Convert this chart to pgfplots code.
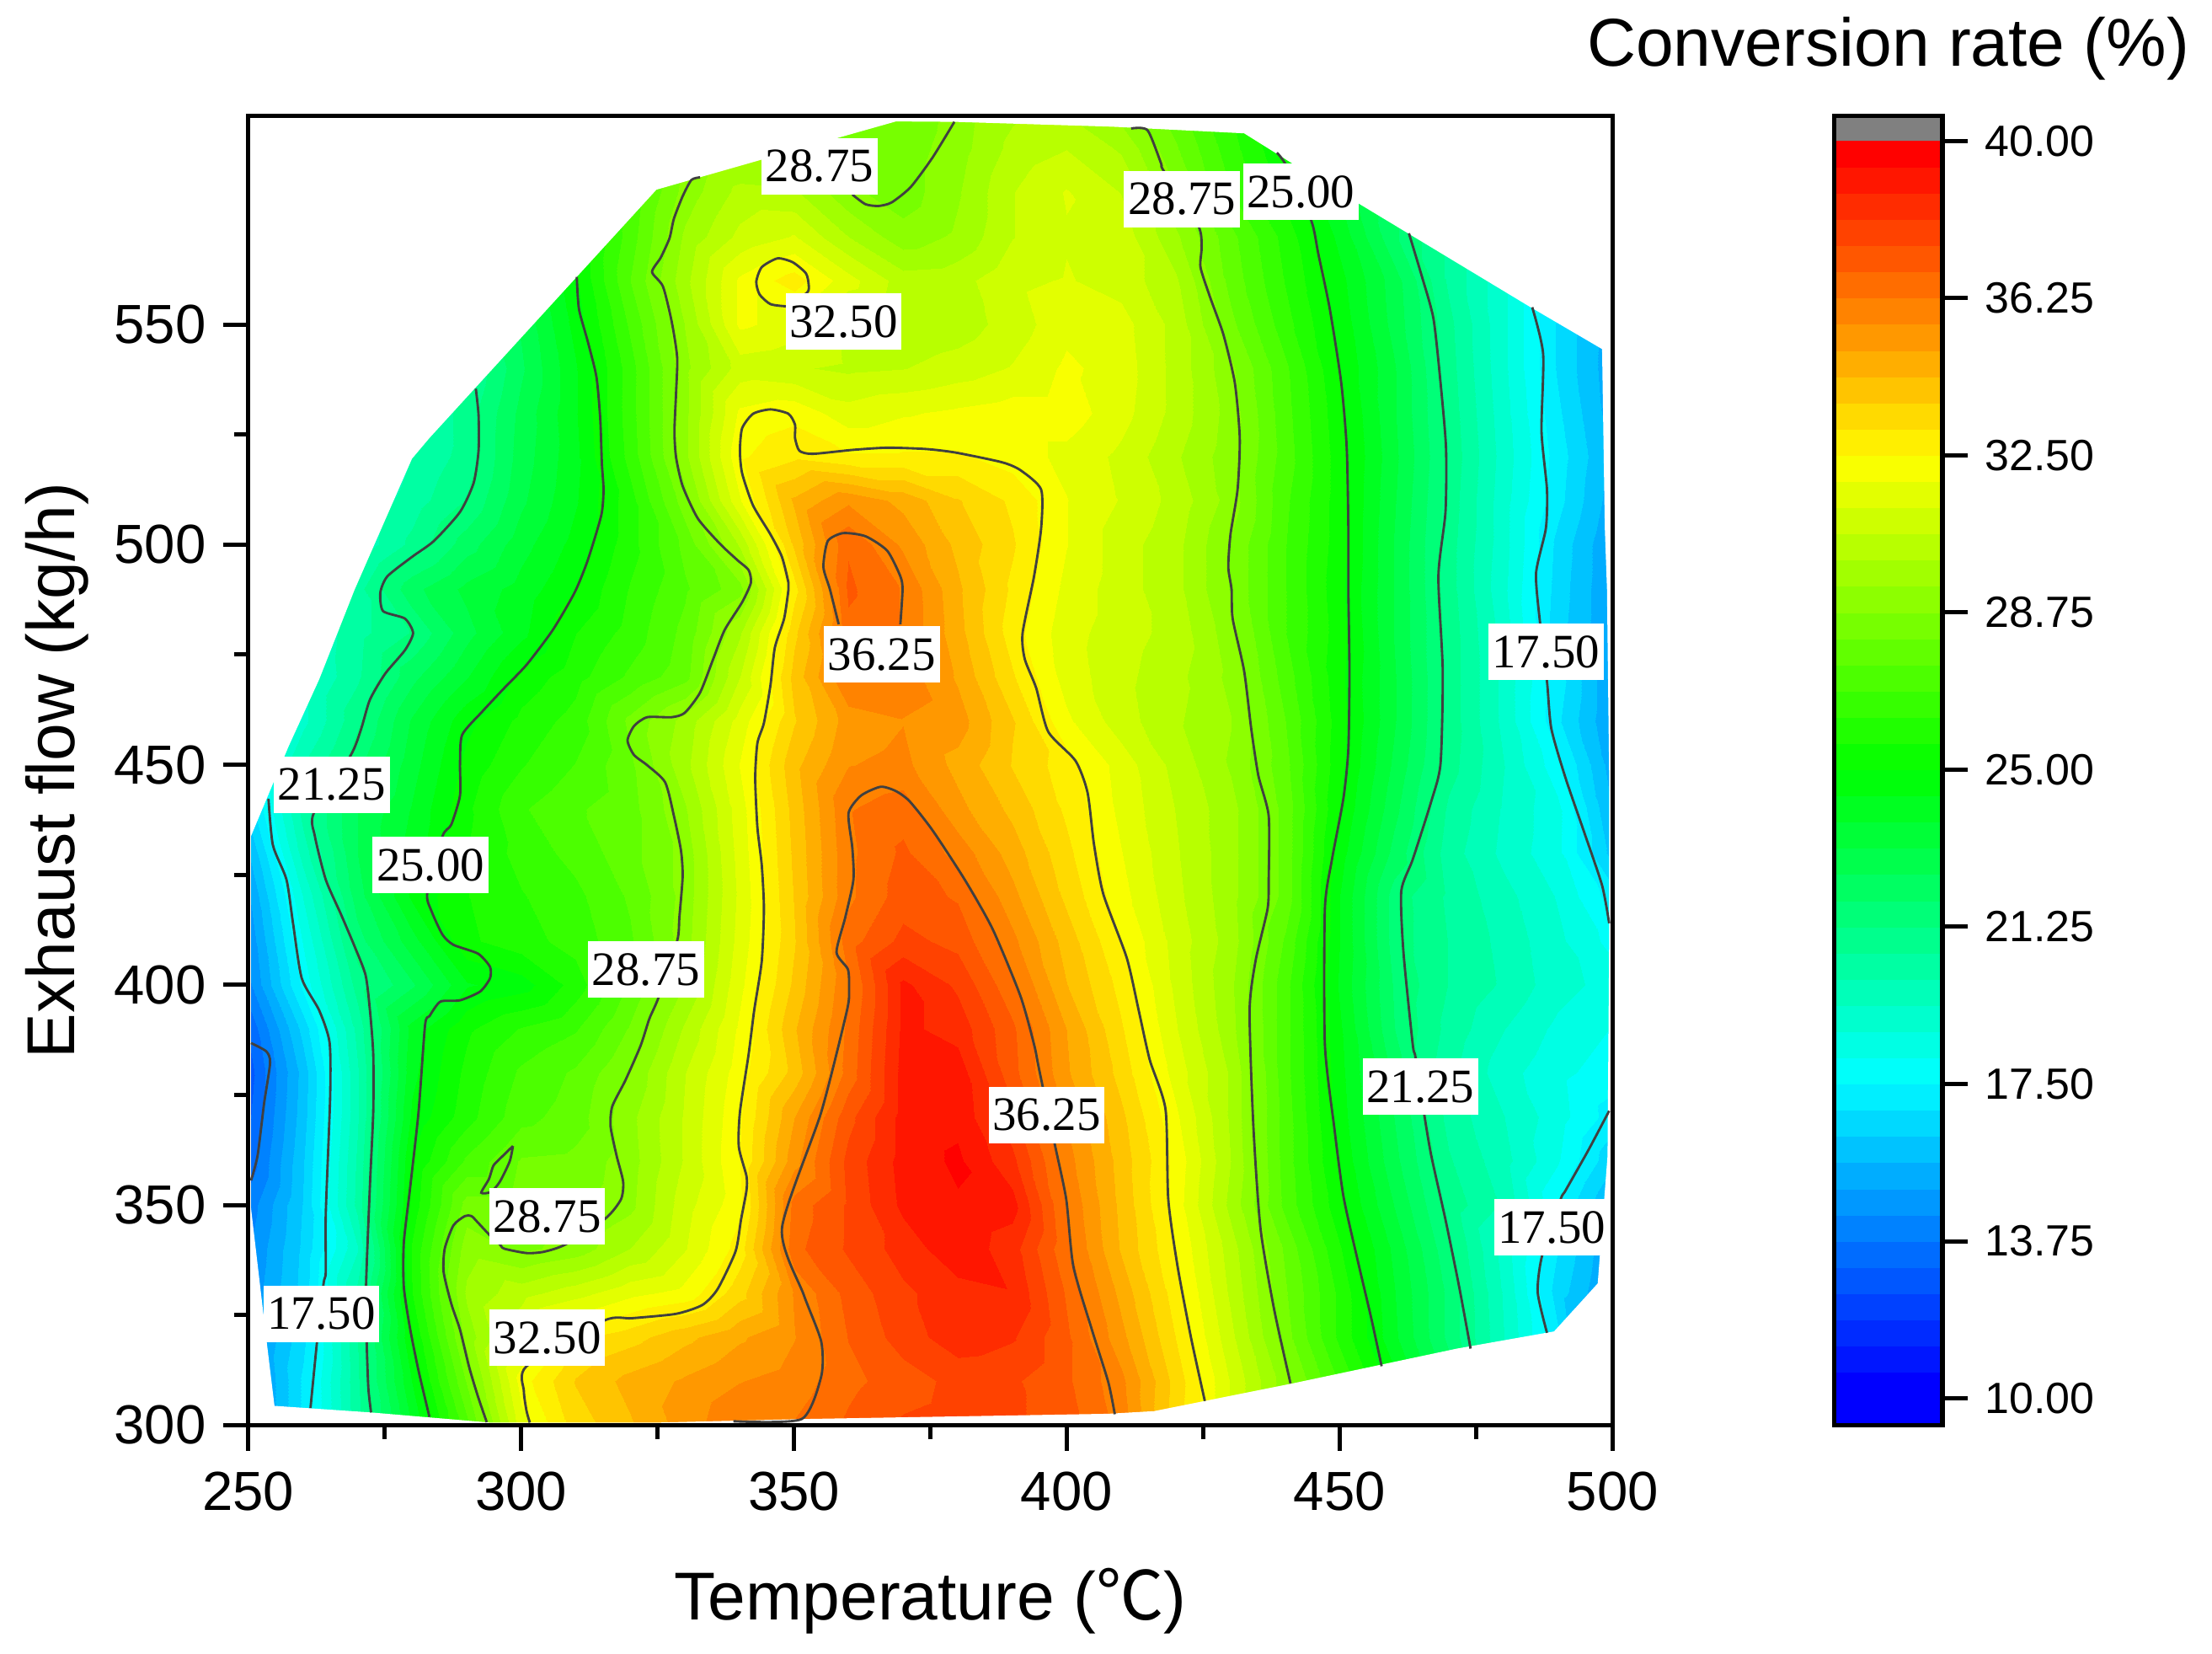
\documentclass[border=0pt]{standalone}
\usepackage{fontspec}
\setmainfont{Liberation Sans}
\newfontfamily\timesf{Liberation Serif}
\newfontfamily\cjk{Noto Sans CJK SC}
\usepackage{pgfplots}
\pgfplotsset{compat=1.18}
\pgfplotsset{
  colormap={rbbase}{rgb255=(0,0,255) rgb255=(0,255,255) rgb255=(0,255,0) rgb255=(255,255,0) rgb255=(255,0,0)},
  colormap={rbsteps}{samples of colormap=(48 of rbbase)},
  frame/.style={scale only axis,axis on top,tick align=outside,
    axis line style={line width=1.6pt},tick style={line width=1.5pt,black},
    major tick length=9pt,minor tick length=5pt,
    colormap name=rbsteps,colormap access=piecewise constant,
    point meta min=10,point meta max=40},
  cline/.style={color={rgb,255:red,64;green,64;blue,64},line width=0.85pt,no marks,smooth,tension=0.4},
}
\tikzset{lab/.style={fill=white,inner sep=0pt,minimum width=41pt,minimum height=20pt,font=\timesf\fontsize{17}{19}\selectfont}}
\begin{document}
\begin{tikzpicture}
\path[use as bounding box] (-88pt,-81pt) rectangle (696pt,505pt);
\begin{axis}[frame,width=483.5pt,height=464pt,xmin=250,xmax=500,ymin=300,ymax=597.4,
  tick pos=left,
  xtick={250,300,350,400,450,500},xticklabels={250,300,350,400,450,500},minor x tick num=1,
  ytick={300,350,400,450,500,550},yticklabels={300,350,400,450,500,550},minor y tick num=1,
  tick label style={font=\fontsize{19.5}{22}\selectfont},
  xticklabel style={yshift=-4pt},yticklabel style={xshift=-2.5pt},
  xlabel={Temperature ({\cjk ℃})},ylabel={Exhaust flow (kg/h)},
  label style={font=\fontsize{24}{28}\selectfont},
  xlabel style={at={(axis description cs:0.5,-0.134)},anchor=center},
  ylabel style={at={(axis description cs:-0.14,0.5)},anchor=center},
]
\addplot[surf,shader=interp,mesh/cols=26,point meta=explicit] table[row sep=\\,x=x,y=y,meta=z]{
x y z\\
250 300 14\\260 300 17\\270 300 20.4\\280 300 23.8\\290 300 27.3\\300 300 31.6\\310 300 33.4\\320 300 34.3\\330 300 35.3\\340 300 36.2\\350 300 36.3\\360 300 37\\370 300 37.6\\380 300 37.8\\390 300 37.6\\400 300 37.2\\410 300 36\\420 300 33.4\\430 300 31.2\\440 300 29\\450 300 26.8\\460 300 24.9\\470 300 22.3\\480 300 19.8\\490 300 17.3\\500 300 15\\
250 310 14.3\\260 310 17\\270 310 20.5\\280 310 24.4\\290 310 28.2\\300 310 32.2\\310 310 33.8\\320 310 34.6\\330 310 35.1\\340 310 35.6\\350 310 35.9\\360 310 36.7\\370 310 37.2\\380 310 37.7\\390 310 37.6\\400 310 37\\410 310 35.8\\420 310 33.5\\430 310 31.2\\440 310 29\\450 310 26.8\\460 310 24.6\\470 310 22.3\\480 310 19.8\\490 310 17.3\\500 310 15\\
250 320 14.5\\260 320 16.7\\270 320 20.6\\280 320 25\\290 320 29\\300 320 31.2\\310 320 33\\320 320 33.5\\330 320 34.2\\340 320 34.9\\350 320 35.6\\360 320 36.9\\370 320 37.8\\380 320 38.5\\390 320 38.2\\400 320 37\\410 320 35.2\\420 320 33.1\\430 320 30.8\\440 320 28.4\\450 320 26.1\\460 320 23.9\\470 320 21.7\\480 320 19.4\\490 320 17\\500 320 13.5\\
250 330 14.5\\260 330 16.5\\270 330 20.2\\280 330 25.6\\290 330 29.5\\300 330 30.4\\310 330 31\\320 330 31.7\\330 330 32.1\\340 330 33.5\\350 330 35.7\\360 330 37.1\\370 330 38\\380 330 38.5\\390 330 38.7\\400 330 36.8\\410 330 34.8\\420 330 32.8\\430 330 30.5\\440 330 28.2\\450 330 26.1\\460 330 23.8\\470 330 21.7\\480 330 19.3\\490 330 16.6\\500 330 14.8\\
250 340 14.3\\260 340 16.4\\270 340 19.3\\280 340 25.7\\290 340 29.1\\300 340 28.6\\310 340 29\\320 340 30\\330 340 31.2\\340 340 32.8\\350 340 36.7\\360 340 37.6\\370 340 38.4\\380 340 39.2\\390 340 38.4\\400 340 36.4\\410 340 34.3\\420 340 32.5\\430 340 30.3\\440 340 28\\450 340 25.7\\460 340 23.6\\470 340 21.4\\480 340 19.1\\490 340 16.9\\500 340 15\\
250 350 14\\260 350 16.3\\270 350 20.2\\280 350 25.2\\290 350 28.4\\300 350 28.4\\310 350 28.6\\320 350 29.2\\330 350 31\\340 350 32.3\\350 350 36.5\\360 350 37.6\\370 350 38.9\\380 350 39.3\\390 350 39\\400 350 36.2\\410 350 34.2\\420 350 32.2\\430 350 29.8\\440 350 27.3\\450 350 25.2\\460 350 23.1\\470 350 21\\480 350 19.9\\490 350 17.5\\500 350 15.5\\
250 360 13.3\\260 360 16.2\\270 360 20.1\\280 360 25\\290 360 27\\300 360 28.2\\310 360 28.3\\320 360 29.1\\330 360 30.7\\340 360 32.5\\350 360 35.4\\360 360 37.7\\370 360 39\\380 360 39.5\\390 360 38.3\\400 360 35.9\\410 360 34.1\\420 360 32.3\\430 360 30\\440 360 27.2\\450 360 24.9\\460 360 22.7\\470 360 20.7\\480 360 19.6\\490 360 18.2\\500 360 16.4\\
250 370 13\\260 370 16\\270 370 19.9\\280 370 24.5\\290 370 26\\300 370 27.3\\310 370 27.8\\320 370 29.2\\330 370 30.7\\340 370 32.4\\350 370 35\\360 370 37.3\\370 370 39\\380 370 39.2\\390 370 37.7\\400 370 35.6\\410 370 33.9\\420 370 32\\430 370 29.9\\440 370 27.2\\450 370 24.7\\460 370 22.5\\470 370 20.4\\480 370 19.4\\490 370 18.4\\500 370 17.2\\
250 380 12.8\\260 380 15.9\\270 380 19.9\\280 380 24.2\\290 380 25.8\\300 380 27\\310 380 27.6\\320 380 28.8\\330 380 30.6\\340 380 32.2\\350 380 34\\360 380 36.5\\370 380 39\\380 380 39.1\\390 380 37.1\\400 380 35.1\\410 380 33.5\\420 380 31.6\\430 380 29.9\\440 380 27.1\\450 380 24.6\\460 380 22.3\\470 380 20.2\\480 380 19\\490 380 18.3\\500 380 17.8\\
250 390 13.2\\260 390 16.5\\270 390 20.2\\280 390 24\\290 390 25.5\\300 390 26.3\\310 390 26.8\\320 390 28.2\\330 390 30.1\\340 390 32\\350 390 34.3\\360 390 36.4\\370 390 38.9\\380 390 38.5\\390 390 37\\400 390 35\\410 390 33.2\\420 390 31.3\\430 390 29.6\\440 390 27.1\\450 390 24.5\\460 390 21.9\\470 390 20.4\\480 390 19.4\\490 390 18.6\\500 390 18.1\\
250 400 14.2\\260 400 17.7\\270 400 20.9\\280 400 22.4\\290 400 24.3\\300 400 24.7\\310 400 25.9\\320 400 27.6\\330 400 29.4\\340 400 31.7\\350 400 33.9\\360 400 36.2\\370 400 38.9\\380 400 38\\390 400 36.4\\400 400 34.4\\410 400 32.9\\420 400 31.1\\430 400 29.5\\440 400 27.1\\450 400 24.3\\460 400 21.8\\470 400 20.6\\480 400 19.9\\490 400 19\\500 400 18.5\\
250 410 14.5\\260 410 18.2\\270 410 21.6\\280 410 23.5\\290 410 25.5\\300 410 26\\310 410 26.5\\320 410 27.4\\330 410 29.1\\340 410 31.5\\350 410 33.7\\360 410 36.6\\370 410 37.7\\380 410 37.3\\390 410 35.8\\400 410 34.1\\410 410 32.5\\420 410 31\\430 410 29.7\\440 410 27.4\\450 410 24.4\\460 410 21.6\\470 410 20.6\\480 410 19.8\\490 410 18.9\\500 410 17.9\\
250 420 14.9\\260 420 18.8\\270 420 22.2\\280 420 24.5\\290 420 25.6\\300 420 26.2\\310 420 26.7\\320 420 27.6\\330 420 29\\340 420 31.4\\350 420 33.8\\360 420 36.1\\370 420 37.2\\380 420 36.8\\390 420 35.2\\400 420 33.6\\410 420 32.1\\420 420 30.8\\430 420 29.6\\440 420 27.9\\450 420 24.4\\460 420 21.6\\470 420 20.5\\480 420 19.6\\490 420 18.7\\500 420 17.2\\
250 430 15.6\\260 430 19.7\\270 430 22.5\\280 430 24\\290 430 25.6\\300 430 26.5\\310 430 27.1\\320 430 27.9\\330 430 29\\340 430 31.5\\350 430 33.9\\360 430 36.1\\370 430 37\\380 430 36\\390 430 34.7\\400 430 33.3\\410 430 31.9\\420 430 30.7\\430 430 29.6\\440 430 27.9\\450 430 24.7\\460 430 22.3\\470 430 20.3\\480 430 19.2\\490 430 18.3\\500 430 16\\
250 440 16.5\\260 440 20.3\\270 440 22.5\\280 440 23.8\\290 440 25.5\\300 440 26.8\\310 440 27.4\\320 440 27.9\\330 440 29.3\\340 440 31.6\\350 440 34\\360 440 36.2\\370 440 36.6\\380 440 35.2\\390 440 34.2\\400 440 33\\410 440 31.7\\420 440 30.6\\430 440 29.6\\440 440 27.9\\450 440 25\\460 440 22.7\\470 440 20.5\\480 440 19.3\\490 440 18.3\\500 440 15.6\\
250 450 17\\260 450 20\\270 450 21.7\\280 450 23.5\\290 450 25.2\\300 450 26.2\\310 450 26.9\\320 450 28\\330 450 29.8\\340 450 31.9\\350 450 34.2\\360 450 35.6\\370 450 35.8\\380 450 34.8\\390 450 33.7\\400 450 32.8\\410 450 31.6\\420 450 30.4\\430 450 29.3\\440 450 27.7\\450 450 25.2\\460 450 23\\470 450 20.9\\480 450 19.4\\490 450 17.7\\500 450 15.3\\
250 460 17\\260 460 19.2\\270 460 21.1\\280 460 23.2\\290 460 24.8\\300 460 25.8\\310 460 26.5\\320 460 28.3\\330 460 29.6\\340 460 31.5\\350 460 33.7\\360 460 35.3\\370 460 35.6\\380 460 35.3\\390 460 33.8\\400 460 32\\410 460 30.9\\420 460 30.1\\430 460 29.4\\440 460 27.5\\450 460 25.3\\460 460 23.2\\470 460 21\\480 460 19.2\\490 460 17\\500 460 15\\
250 470 17.5\\260 470 19.2\\270 470 20.5\\280 470 22.3\\290 470 23.7\\300 470 25.2\\310 470 26\\320 470 27\\330 470 27.9\\340 470 30.6\\350 470 34\\360 470 36.3\\370 470 36\\380 470 34.9\\390 470 33.2\\400 470 31.6\\410 470 30.8\\420 470 30.2\\430 470 29.2\\440 470 27.2\\450 470 25.2\\460 470 23.2\\470 470 21\\480 470 19.2\\490 470 17.2\\500 470 15\\
250 480 18\\260 480 19.3\\270 480 20.4\\280 480 21.3\\290 480 22.9\\300 480 24.2\\310 480 25.6\\320 480 26.5\\330 480 27.7\\340 480 29.9\\350 480 33.6\\360 480 36.7\\370 480 36.2\\380 480 34.6\\390 480 32.8\\400 480 31.5\\410 480 30.9\\420 480 30.4\\430 480 29\\440 480 26.9\\450 480 25.3\\460 480 23.1\\470 480 21\\480 480 19.1\\490 480 16.5\\500 480 15\\
250 490 18\\260 490 19\\270 490 20.4\\280 490 22.3\\290 490 23.3\\300 490 24\\310 490 25\\320 490 26.3\\330 490 27.4\\340 490 28.5\\350 490 32.9\\360 490 37\\370 490 36.2\\380 490 34.5\\390 490 33\\400 490 31.7\\410 490 30.9\\420 490 30.2\\430 490 28.7\\440 490 26.9\\450 490 25.2\\460 490 23.1\\470 490 20.9\\480 490 18.9\\490 490 16.6\\500 490 15\\
250 500 18\\260 500 18.5\\270 500 19.5\\280 500 20.8\\290 500 22.2\\300 500 23.5\\310 500 24.6\\320 500 26\\330 500 27.7\\340 500 30.1\\350 500 33.9\\360 500 36.8\\370 500 35.5\\380 500 34.2\\390 500 33.2\\400 500 31.9\\410 500 30.9\\420 500 30.2\\430 500 28.7\\440 500 26.9\\450 500 25.3\\460 500 23.1\\470 500 20.9\\480 500 19\\490 500 16.7\\500 500 15\\
250 510 17.5\\260 510 18.5\\270 510 19.4\\280 510 20.3\\290 510 21.3\\300 510 23\\310 510 24.3\\320 510 26\\330 510 28.5\\340 510 31.8\\350 510 34.5\\360 510 35.5\\370 510 34.8\\380 510 33.8\\390 510 33\\400 510 31.9\\410 510 31.2\\420 510 30.4\\430 510 29.1\\440 510 27\\450 510 25.3\\460 510 23.2\\470 510 21\\480 510 19\\490 510 17.1\\500 510 15.3\\
250 520 17.5\\260 520 18.3\\270 520 19\\280 520 20\\290 520 20.9\\300 520 22.8\\310 520 24.2\\320 520 26.5\\330 520 29.2\\340 520 32.4\\350 520 33\\360 520 32.6\\370 520 32.6\\380 520 32.6\\390 520 32.2\\400 520 31.7\\410 520 31.1\\420 520 30.1\\430 520 29\\440 520 27.2\\450 520 25.3\\460 520 23.3\\470 520 21.1\\480 520 19.1\\490 520 17.2\\500 520 15.5\\
250 530 17\\260 530 18\\270 530 19\\280 530 19.8\\290 530 20.9\\300 530 22.7\\310 530 24.3\\320 530 26.6\\330 530 29.2\\340 530 32\\350 530 32.3\\360 530 31.5\\370 530 31.8\\380 530 32\\390 530 32.2\\400 530 32.2\\410 530 31.5\\420 530 30.4\\430 530 29.1\\440 530 27.1\\450 530 25.2\\460 530 23.2\\470 530 21\\480 530 19\\490 530 17\\500 530 15.3\\
250 540 17\\260 540 18\\270 540 19\\280 540 19.5\\290 540 20.5\\300 540 22.4\\310 540 24.3\\320 540 26.6\\330 540 29.2\\340 540 30.9\\350 540 30.7\\360 540 30.5\\370 540 30.6\\380 540 30.9\\390 540 31.3\\400 540 32\\410 540 31.6\\420 540 30.4\\430 540 28.9\\440 540 27\\450 540 25\\460 540 23.2\\470 540 20.9\\480 540 18.9\\490 540 16.8\\500 540 15.2\\
250 550 17\\260 550 18\\270 550 19\\280 550 19.8\\290 550 20.9\\300 550 22.6\\310 550 24.6\\320 550 27\\330 550 29.4\\340 550 32\\350 550 31.6\\360 550 30.4\\370 550 30.1\\380 550 30.3\\390 550 30.9\\400 550 31.7\\410 550 31.5\\420 550 30.4\\430 550 28.3\\440 550 26.5\\450 550 24.8\\460 550 22.9\\470 550 20.8\\480 550 18.9\\490 550 16.8\\500 550 15.3\\
250 560 17\\260 560 18\\270 560 19\\280 560 20\\290 560 21.3\\300 560 22.9\\310 560 24.9\\320 560 27.5\\330 560 29.8\\340 560 32\\350 560 32.8\\360 560 31.5\\370 560 30.3\\380 560 30.4\\390 560 31.1\\400 560 31.3\\410 560 31\\420 560 30.1\\430 560 27.9\\440 560 26.2\\450 560 24.6\\460 560 22.8\\470 560 20.5\\480 560 18.9\\490 560 17\\500 560 15.5\\
250 570 17\\260 570 18\\270 570 19\\280 570 20\\290 570 21.4\\300 570 23\\310 570 25\\320 570 27.2\\330 570 29.5\\340 570 30.8\\350 570 31.3\\360 570 30\\370 570 29\\380 570 29.5\\390 570 30.6\\400 570 31.2\\410 570 31\\420 570 29.5\\430 570 27.7\\440 570 26\\450 570 24.2\\460 570 22\\470 570 20.5\\480 570 19\\490 570 17.3\\500 570 16\\
250 580 17\\260 580 18\\270 580 19\\280 580 20\\290 580 21.5\\300 580 23\\310 580 25\\320 580 27\\330 580 29\\340 580 30.2\\350 580 30.1\\360 580 28.9\\370 580 28.4\\380 580 29.3\\390 580 30.6\\400 580 31.3\\410 580 30.6\\420 580 28.8\\430 580 26.9\\440 580 25.4\\450 580 23.7\\460 580 22\\470 580 20.5\\480 580 19\\490 580 17.5\\500 580 16\\
250 590 17\\260 590 18\\270 590 19\\280 590 20\\290 590 21.5\\300 590 23\\310 590 25\\320 590 26.8\\330 590 28.7\\340 590 29.2\\350 590 29\\360 590 28.6\\370 590 28.4\\380 590 29.1\\390 590 30.2\\400 590 30.6\\410 590 29.9\\420 590 28.2\\430 590 26.5\\440 590 25\\450 590 23.7\\460 590 22\\470 590 20.5\\480 590 19\\490 590 17.5\\500 590 16\\
250 600 17\\260 600 18\\270 600 19\\280 600 20\\290 600 21.5\\300 600 23\\310 600 25\\320 600 26.5\\330 600 28.4\\340 600 28.5\\350 600 28.2\\360 600 28\\370 600 28.2\\380 600 29\\390 600 29.8\\400 600 29.8\\410 600 28.9\\420 600 27.7\\430 600 26.2\\440 600 24.8\\450 600 23.7\\460 600 22\\470 600 20.5\\480 600 19\\490 600 17.5\\500 600 16\\
};
% white outside the measured region
\addplot[fill=white,draw=none,forget plot] coordinates {(250,300)(500,300)(500,597.4)(250,597.4)(250,300)
 (254.8,304.4)(253.3,319.7)(250.5,349.3)(250.5,433.8)(257.4,454.2)(263,469.4)(269.5,489.8)(280,519.5)(283.2,524.2)(310.2,560.8)(324.8,580.6)(359,592.7)(368.7,596.1)(379.6,596)(408.4,594.9)(432.5,593.4)(441.4,586.5)(453.7,577.3)(484.6,554.2)(498.1,544.4)(498.6,503.7)(499,489.8)(499.4,447)(499.4,410.7)(499.1,361.2)(497.3,332.2)(489.3,321.3)(471.5,317.4)(441.4,309.5)(416,303.2)(407.6,302.6)(351.4,301.4)(325,300.6)(294.3,300.6)(272.5,302.9)(254.8,304.4)(250,300)} \closedcycle;
% 13.75
\addplot[cline] coordinates {(250.5,386.8)(253.3,384.9)(254,382.3)(252.9,373.1)(251.7,361.2)(250.5,355.6)};
% 17.50
\addplot[cline] coordinates {(253.7,442.3)(254.5,431.8)(257,423.9)(258.2,414)(259.8,401.5)(263,394.2)(264.9,386.9)(265,374.4)(264.2,348)(264.2,334.8)(263.8,332.2)(262.6,319)(261.4,303.9)};
\addplot[cline] coordinates {(485.3,553.9)(487.3,543.3)(487,525.7)(488,512.5)(487.8,503.7)(486,493.5)(486.7,482.6)(488,469)(488.8,458.2)(491.4,447)(494.7,435.1)(498.1,422.6)(499.4,414)};
\addplot[cline] coordinates {(499.4,371.4)(495.6,362.5)(491.4,353.3)(490.5,351.3)(487.1,338.5)(486.3,330.2)(488,321)};
% 21.25
\addplot[cline] coordinates {(291.7,535.4)(292.2,529.4)(292.2,521.3)(291.3,514)(288.8,507.4)(284,500.8)(280,497.2)(275.5,492.8)(274.2,489.1)(274.7,484.9)(278.7,483.2)(280.2,479.9)(278.7,476)(275.1,470.7)(272.3,464.8)(270.7,458.2)(268.8,452.2)(262,439)(262.2,433.8)(264.2,423.9)(267,416)(269.5,408.7)(271.5,402.2)(272.3,394.2)(272.9,384.3)(272.9,371.1)(272.3,354.6)(271.6,332.2)(271.7,319)(272,308.5)(272.5,302.9)};
\addplot[cline] coordinates {(462.7,570.7)(465.1,560.8)(467.2,551.3)(468.5,536.7)(469.5,522)(469.4,507.4)(468.1,492.8)(468.9,471.3)(468.5,450.3)(466.8,441.7)(463.4,428.5)(461.3,421.3)(461.7,407.4)(463.4,386.5)(463.9,383.6)(465.5,370.6)(466.8,361.2)(469.4,346.7)(471.9,331.5)(474,317.4)};
% 25.00
\addplot[cline] coordinates {(310.2,560.8)(310.6,553.5)(312.2,546.2)(313.8,538.1)(314.5,528.6)(314.8,518.4)(315.1,512.5)(314.7,506.7)(312.2,496.4)(309.8,489.1)(305.8,480.6)(301,472.7)(296.9,467.4)(292.9,462.1)(289.2,456.8)(288.8,450.3)(288.8,443)(287.2,436.4)(285.6,433.8)(282.8,420.9)(283.6,416.7)(285.6,411.4)(287.6,409.1)(292.1,407.1)(294.3,404.1)(294.3,401.5)(292.5,398.5)(288.8,396.5)(285.2,396.2)(283.2,392.9)(282.4,390.9)(281.2,371.1)(279.6,353.3)(278.5,341.4)(278.5,331.5)(279.6,322.3)(281.2,312.4)(283.2,301.9)};
\addplot[cline] coordinates {(438.5,589)(440.2,586.1)(444.8,573.6)(446.1,566)(448.2,553.5)(450.3,536.7)(451.3,522)(451.6,503.7)(451.6,489.8)(451.8,471.3)(451.6,453.6)(450.7,442.4)(448.6,428.5)(447.3,417.3)(447.3,386.5)(449,367.8)(450.7,352)(453.3,337.5)(455.8,324.3)(457.7,313.4)};
% 28.75
\addplot[cline] coordinates {(332.8,583.4)(331.2,582.8)(329.6,579.1)(328,574)(327.2,569.6)(325.6,565.2)(324,561.9)(326,558.6)(327.6,550.6)(328.6,542.5)(328.4,534.5)(328.1,525.7)(328.4,519.8)(329.6,513.3)(332.4,505.9)(336.5,500.1)(339.7,496.4)(341.7,494.2)(342.1,491.3)(340.5,486.9)(337.3,480.6)(335.2,474)(332.8,466.4)(330,461.8)(327.6,460.8)(323.1,460.8)(320.7,458.8)(319.5,455.5)(320.7,452.2)(323.1,449.9)(326.4,446)(328,438.4)(329.3,430.5)(329.6,424.6)(329,415.3)(328.6,410)(325.2,397.2)(323.5,392.3)(321.9,386.2)(319.1,378.3)(316.7,372.4)(316.4,367.8)(317.5,361.2)(318.7,355.3)(318.3,351.3)(315.5,347)(308.2,341.1)(304.2,339.4)(301,339.1)(296.9,340.1)(296.1,341.1)(294.3,343.1)(292.1,346)(290.9,347.5)(289.7,347.5)(287.6,345.4)(286,340.1)(285.8,334.8)(287.2,327.6)(288.8,321.7)(290.5,313.1)(292.1,306.5)(293.7,300.7)};
\addplot[cline] coordinates {(298.5,363.4)(297.9,359.9)(296.1,355.3)(294.5,353)(292.7,352.8)(294.1,355.9)(294.9,358.9)(296.1,360.5)(298.5,363.4)};
\addplot[cline] coordinates {(379.4,596)(375.4,587.9)(371.4,581.2)(367.9,577.7)(365.5,576.9)(363.1,577.3)(360.7,579.5)};
\addplot[cline] coordinates {(411.8,594.5)(414.8,594.1)(417.3,586.5)(417.7,585)(424.1,572.4)(424.7,567.4)(424.5,563)(426.2,556.4)(428.7,547.7)(430.8,536.7)(431.7,524.2)(431.3,512.5)(430,502.3)(429.6,494.9)(430.2,489.8)(430.4,483.2)(432.5,471.3)(433.8,458.2)(435.1,447.6)(437,438.4)(437,423.9)(436.8,417.3)(434.6,405.5)(433.5,394.1)(434.2,367.8)(435.5,344.7)(438,326.3)(441,309.5)};
% 32.50
\addplot[cline] coordinates {(348.6,554.1)(345.7,554.6)(343.7,556.8)(343.1,559.7)(344.1,563)(347,565)(349.8,564.1)(352.2,561.6)(352.7,559)(352.4,557.2)(348.6,554.1)};
\addplot[cline] coordinates {(301.6,300.6)(301,303.2)(300.5,307.8)(301,313.4)(315.3,323.8)(320.3,324.3)(328.4,325.3)(333.2,327.3)(336,330.9)(339.3,339.5)(340.3,346.7)(341.3,353.3)(341.3,356.6)(339.9,363.2)(340.1,371.1)(341.7,384.3)(342.7,394.1)(344.1,405.4)(344.5,417.3)(344.1,427.2)(343.3,435.8)(342.9,447)(343.3,454.9)(344.5,459.5)(345.7,468.1)(346.5,476.6)(348.2,483.2)(349,489.8)(349,491.3)(347.8,497.2)(345.7,502.3)(342.5,508.9)(340.5,516.2)(340.1,521.3)(340.5,526.4)(342.5,529.7)(345.7,530.7)(349,529.7)(350.2,527.2)(350.2,524.2)(351,521.3)(353.4,520.6)(360.7,521.5)(367.1,522)(374.2,521.7)(379.6,520.9)(388.1,518.7)(391.5,516.9)(395.3,512.5)(395.3,503.7)(394,492.8)(391.9,479.9)(392.3,474)(394.4,467.4)(396.6,457.5)(401.6,450.9)(403.8,443.7)(405,431.8)(406.7,420.6)(411,406.1)(413.2,394.1)(415.2,383)(418.1,371.7)(418.6,351.3)(420.3,336.1)(422.8,319.7)(425.3,305.5)};
% 36.25
\addplot[cline] coordinates {(358.2,481.9)(356.6,489.8)(355.4,494.9)(356.2,500.8)(359,502.6)(363.1,501.9)(367.1,498.6)(369.5,492.8)(369.9,489.8)(369.5,481.9)};
\addplot[cline] coordinates {(338.9,300.9)(351.4,301.4)(355,311.1)(355,319)(351.8,329.6)(347.8,344.7)(355,371.1)(359.7,394.1)(360.1,398.9)(359.9,403.5)(357.8,407.4)(359.4,415.3)(360.9,423.9)(360.7,431.1)(360,439)(362.3,443)(365.9,445)(368.7,444)(371.2,441.7)(375.4,435.1)(381.3,423.9)(386.4,412.7)(391.5,397.5)(394,386.5)(394.9,381)(397.8,363.8)(399.9,351.3)(401.2,336.1)(404.6,321.7)(407.6,309.8)(408.8,302.5)};
\node[lab] at (axis cs:354.7,585.9){28.75};
\node[lab] at (axis cs:359.1,550.6){32.50};
\node[lab] at (axis cs:421.1,578.5){28.75};
\node[lab] at (axis cs:442.9,580.1){25.00};
\node[lab] at (axis cs:366.1,475){36.25};
\node[lab] at (axis cs:487.8,475.6){17.50};
\node[lab] at (axis cs:265.3,445.5){21.25};
\node[lab] at (axis cs:283.4,427.2){25.00};
\node[lab] at (axis cs:322.9,403.5){28.75};
\node[lab] at (axis cs:464.8,376.9){21.25};
\node[lab] at (axis cs:396.3,370.5){36.25};
\node[lab] at (axis cs:304.8,347.4){28.75};
\node[lab] at (axis cs:488.9,344.9){17.50};
\node[lab] at (axis cs:263.4,325.3){17.50};
\node[lab] at (axis cs:304.8,319.9){32.50};
\end{axis}
\begin{axis}[frame,at={(562pt,0pt)},anchor=south west,width=38.5pt,height=464pt,xmin=0,xmax=1,ymin=9.36,ymax=40.6,
  xtick=\empty,ytick pos=right,yticklabel pos=right,
  ytick={10,13.75,17.5,21.25,25,28.75,32.5,36.25,40},
  yticklabels={10.00,13.75,17.50,21.25,25.00,28.75,32.50,36.25,40.00},
  tick label style={font=\fontsize{15.5}{18}\selectfont},yticklabel style={xshift=2.5pt},
  title={Conversion rate (\%)},title style={at={(0.5,1.038)},anchor=center,font=\fontsize{24}{28}\selectfont},
]
\addplot[surf,shader=flat corner,mesh/cols=2,point meta=explicit] table[row sep=\\,x=x,y=y,meta=m]{
x y m\\
0 9.36 10.3\\1 9.36 10.3\\0 10.625 10.9\\1 10.625 10.9\\0 11.25 11.5\\1 11.25 11.5\\0 11.875 12.2\\1 11.875 12.2\\0 12.5 12.8\\1 12.5 12.8\\0 13.125 13.4\\1 13.125 13.4\\0 13.75 14\\1 13.75 14\\0 14.375 14.7\\1 14.375 14.7\\0 15 15.3\\1 15 15.3\\0 15.625 15.9\\1 15.625 15.9\\0 16.25 16.5\\1 16.25 16.5\\0 16.875 17.2\\1 16.875 17.2\\0 17.5 17.8\\1 17.5 17.8\\0 18.125 18.4\\1 18.125 18.4\\0 18.75 19\\1 18.75 19\\0 19.375 19.7\\1 19.375 19.7\\0 20 20.3\\1 20 20.3\\0 20.625 20.9\\1 20.625 20.9\\0 21.25 21.5\\1 21.25 21.5\\0 21.875 22.2\\1 21.875 22.2\\0 22.5 22.8\\1 22.5 22.8\\0 23.125 23.4\\1 23.125 23.4\\0 23.75 24\\1 23.75 24\\0 24.375 24.7\\1 24.375 24.7\\0 25 25.3\\1 25 25.3\\0 25.625 25.9\\1 25.625 25.9\\0 26.25 26.5\\1 26.25 26.5\\0 26.875 27.2\\1 26.875 27.2\\0 27.5 27.8\\1 27.5 27.8\\0 28.125 28.4\\1 28.125 28.4\\0 28.75 29\\1 28.75 29\\0 29.375 29.7\\1 29.375 29.7\\0 30 30.3\\1 30 30.3\\0 30.625 30.9\\1 30.625 30.9\\0 31.25 31.5\\1 31.25 31.5\\0 31.875 32.2\\1 31.875 32.2\\0 32.5 32.8\\1 32.5 32.8\\0 33.125 33.4\\1 33.125 33.4\\0 33.75 34\\1 33.75 34\\0 34.375 34.7\\1 34.375 34.7\\0 35 35.3\\1 35 35.3\\0 35.625 35.9\\1 35.625 35.9\\0 36.25 36.5\\1 36.25 36.5\\0 36.875 37.2\\1 36.875 37.2\\0 37.5 37.8\\1 37.5 37.8\\0 38.125 38.4\\1 38.125 38.4\\0 38.75 39\\1 38.75 39\\0 39.375 39.7\\1 39.375 39.7\\0 40 39.9\\1 40 39.9\\
};
\addplot[fill={rgb,255:red,128;green,128;blue,128},draw=none] coordinates {(0,40)(1,40)(1,40.6)(0,40.6)} \closedcycle;
\end{axis}
\end{tikzpicture}
\end{document}
